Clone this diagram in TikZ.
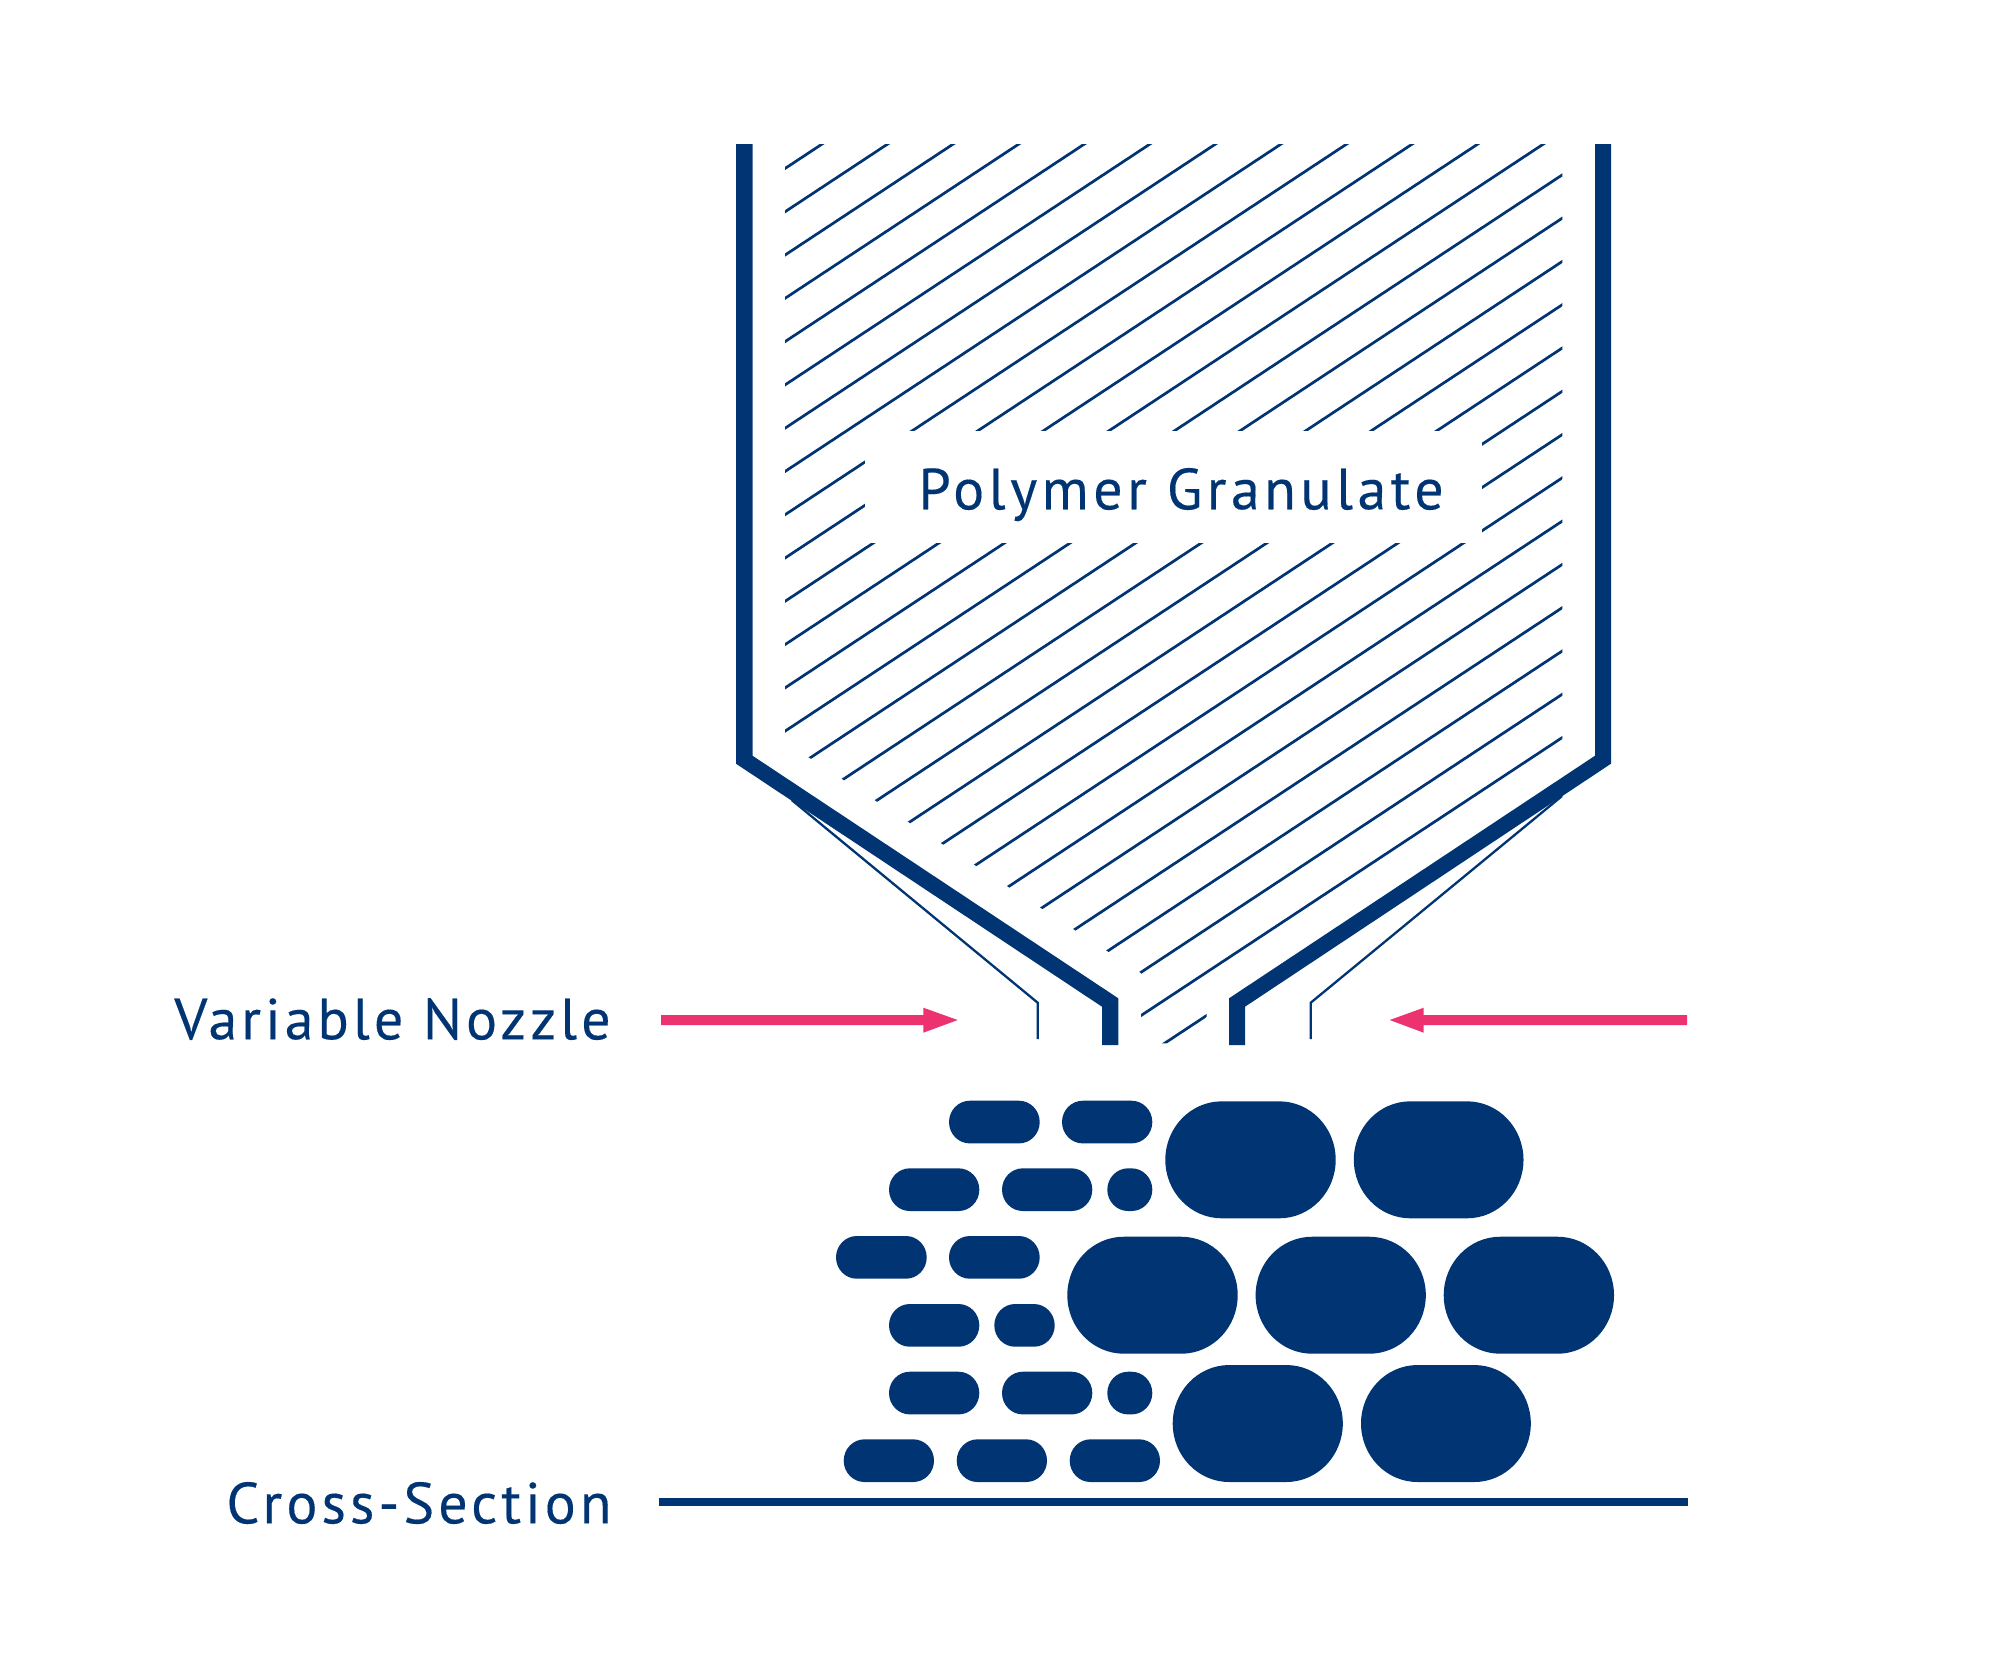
\documentclass[tikz,border=0pt]{standalone}
\usepackage{fontspec}
\setmainfont{PT Sans}
\newfontfamily\lblA[LetterSpace=7,FakeBold=0.25]{PT Sans}
\newfontfamily\lblB[LetterSpace=7.7,FakeBold=0.25]{PT Sans}
\definecolor{navy}{HTML}{003473}
\definecolor{pinkarrow}{HTML}{EC3370}
\tikzset{
  x=0.5pt,y=-0.5pt,
  hatchline/.style={navy,line width=1.35pt},
  thinline/.style={navy,line width=1.15pt},
  wall/.style={fill=navy,draw=none},
  arrowshape/.style={fill=pinkarrow,draw=none},
  lbl/.style={text=navy,inner sep=0pt,anchor=base west,font=\lblA\fontsize{29}{34}\selectfont},
  lblwide/.style={text=navy,inner sep=0pt,anchor=base west,font=\lblB\fontsize{29}{34}\selectfont},
  blobfill/.style={fill=navy,draw=none},
}
% #1 left, #2 right, #3 top, #4 bottom, #5 horizontal radius
\newcommand{\capsule}[5]{%
  \pgfmathsetmacro{\ry}{(#4-#3)/2}%
  \pgfmathsetmacro{\kx}{0.5523*#5}%
  \pgfmathsetmacro{\ky}{0.5523*\ry}%
  \fill[blobfill] ({#1+#5},#3) -- ({#2-#5},#3)
    .. controls ({#2-#5+\kx},#3) and (#2,{#3+\ry-\ky}) .. (#2,{#3+\ry})
    .. controls (#2,{#3+\ry+\ky}) and ({#2-#5+\kx},#4) .. ({#2-#5},#4)
    -- ({#1+#5},#4)
    .. controls ({#1+#5-\kx},#4) and (#1,{#3+\ry+\ky}) .. (#1,{#3+\ry})
    .. controls (#1,{#3+\ry-\ky}) and ({#1+#5-\kx},#3) .. ({#1+#5},#3) -- cycle;}
\newcommand{\pill}[3]{\capsule{#1}{#2}{#3}{#3+42.7}{20.8}}
\newcommand{\blob}[3]{\capsule{#1}{#2}{#3}{#3+117}{56.6}}
\begin{document}
\begin{tikzpicture}
\useasboundingbox (0,0) rectangle (2000,1656);
% hatching
\begin{scope}
\clip (785,144) -- (1562.3,144) -- (1562.3,758) -- (1206.7,993) -- (1206.7,1043.3) -- (1141,1043.3) -- (1141,973) -- (785,742) -- cycle;
\foreach \k in {0,...,26}{
  \draw[hatchline] (700,{168.5+43.28*\k+0.66*85}) -- (1650,{168.5+43.28*\k-0.66*865});
}
\end{scope}
\fill[white] (865,431) rectangle (1482.3,543.3);
% hopper walls
\fill[wall] (736,144) -- (752.5,144) -- (752.5,755.7) -- (1118.3,998.3) -- (1118.3,1045) -- (1102,1045) -- (1102,1006.7) -- (736,763.7) -- cycle;
\fill[wall] (1611,144) -- (1595,144) -- (1595,755.7) -- (1229,998.3) -- (1229,1045) -- (1245,1045) -- (1245,1006.7) -- (1611,763.7) -- cycle;
% thin nozzle lines
\draw[thinline] (791.7,800) -- (1037.7,1002.7) -- (1037.7,1039);
\draw[thinline] (1562,796) -- (1310.7,1002.7) -- (1310.7,1039);
% arrows
\fill[arrowshape] (661,1015) -- (923.3,1015) -- (923.3,1007.7) -- (957.7,1020) -- (923.3,1032.7) -- (923.3,1025) -- (661,1025) -- cycle;
\fill[arrowshape] (1687,1015) -- (1423.7,1015) -- (1423.7,1007.7) -- (1389.7,1020) -- (1423.7,1032.7) -- (1423.7,1025) -- (1687,1025) -- cycle;
% rule
\fill[wall] (659,1498) rectangle (1688,1506.3);
% small pills
\pill{949}{1039.7}{1100.7}\pill{1062}{1152.3}{1100.7}
\pill{889}{979.3}{1168.3}\pill{1002}{1092.3}{1168.3}\pill{1107.3}{1152.3}{1168.3}
\pill{836}{926.7}{1236}\pill{949}{1039.7}{1236}
\pill{889}{979.3}{1304}\pill{994.3}{1054.7}{1304}
\pill{889}{979.3}{1371.7}\pill{1002}{1092.3}{1371.7}\pill{1107.3}{1152.3}{1371.7}
\pill{843.7}{934}{1439.3}\pill{956.7}{1047}{1439.3}\pill{1069.7}{1160}{1439.3}
% big blobs
\blob{1165.3}{1335.7}{1101.3}\blob{1353.8}{1523.5}{1101.3}
\blob{1067.3}{1237.7}{1236.7}\blob{1255.6}{1425.8}{1236.7}\blob{1443.7}{1614}{1236.7}
\blob{1172.7}{1342.8}{1365}\blob{1361}{1530.8}{1365}
% labels
\node[lblwide] (poly) at (918,509.3) {Polymer Granulate};
\node[lbl] (noz) at (174,1039.3) {Variable Nozzle};
\node[lbl] (cross) at (226,1523.3) {Cross-Section};
\end{tikzpicture}
\end{document}
